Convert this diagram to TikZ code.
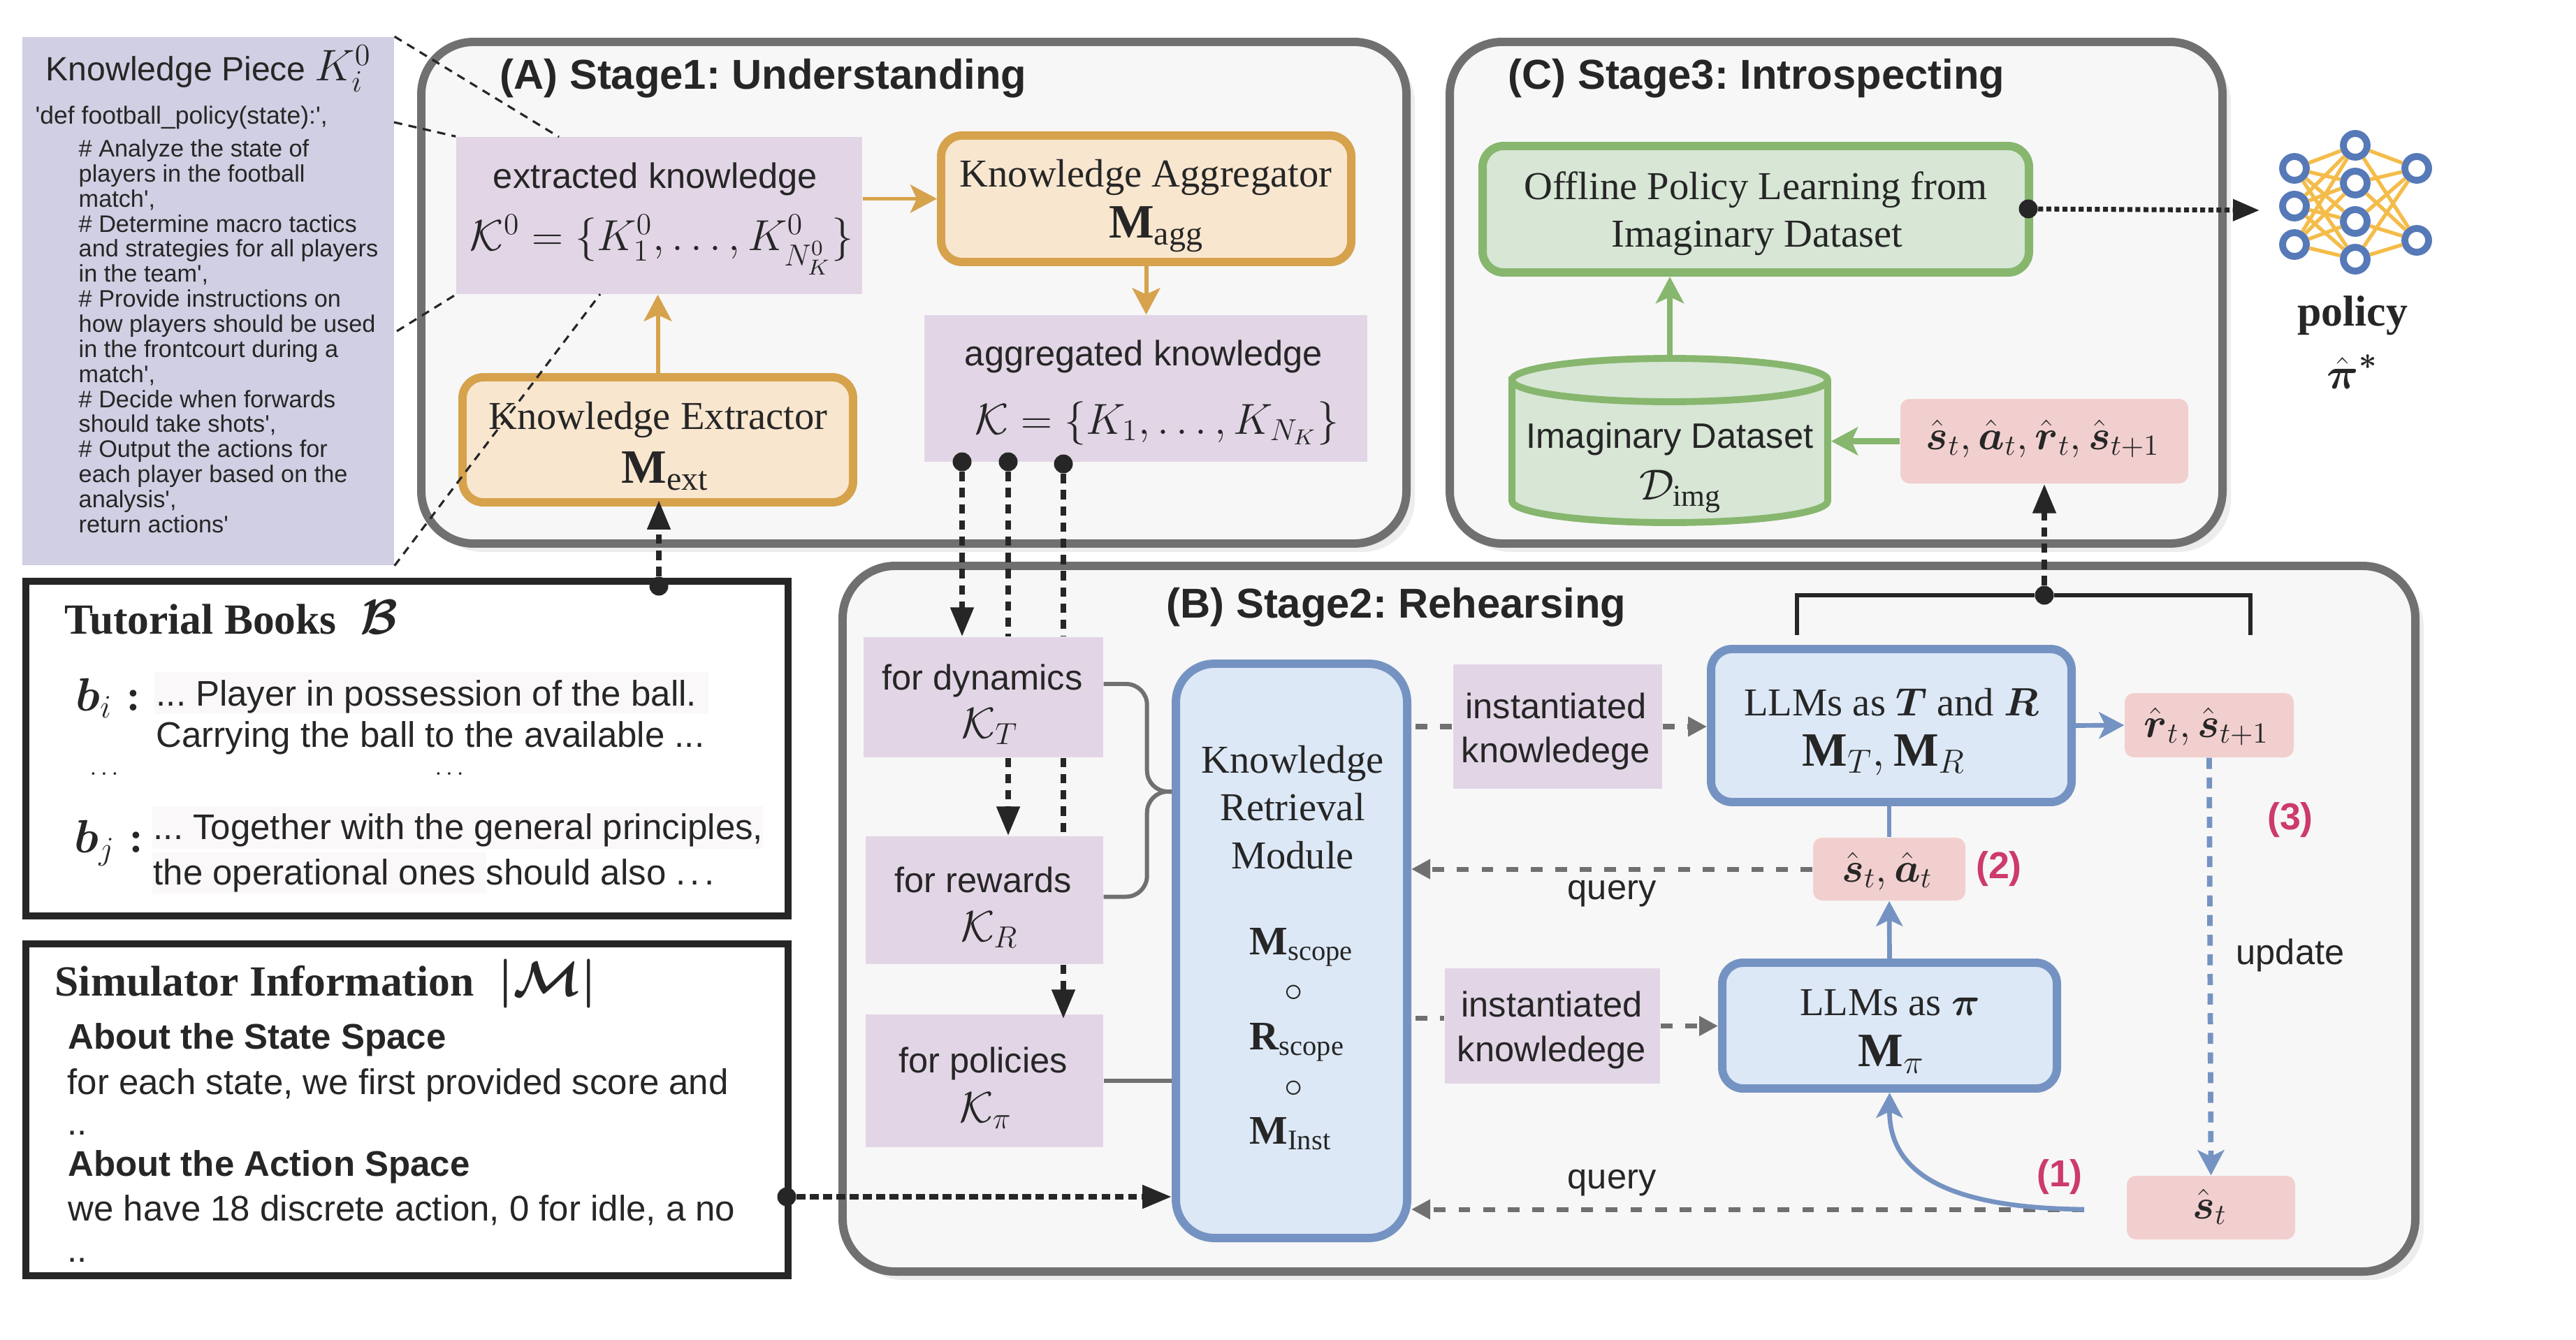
\documentclass[tikz,border=0pt]{standalone}
\usepackage{fix-cm}
\usepackage{amsmath}
\usepackage{fontspec}
\setmainfont{Liberation Serif}
\setsansfont{Liberation Sans}
\newfontfamily\codefont{Liberation Sans}
\usetikzlibrary{arrows.meta,shadows}

\definecolor{ink}{HTML}{262626}
\definecolor{panelgray}{HTML}{707070}
\definecolor{panelfill}{HTML}{F7F7F7}
\definecolor{piecefill}{HTML}{D0CFE3}
\definecolor{purplefill}{HTML}{E2D6E6}
\definecolor{orangeline}{HTML}{D6A24C}
\definecolor{orangefill}{HTML}{F9E6CF}
\definecolor{greenline}{HTML}{87B66E}
\definecolor{greenfill}{HTML}{D7E6D5}
\definecolor{blueline}{HTML}{7593C2}
\definecolor{bluefill}{HTML}{DCE8F6}
\definecolor{pinkfill}{HTML}{F2CFCF}
\definecolor{bandfill}{HTML}{FBF8FA}
\definecolor{stepred}{HTML}{CC3A6E}
\definecolor{netblue}{HTML}{5679B8}
\definecolor{netyellow}{HTML}{F4BC4A}

\newcommand{\sansfont}[1]{\sffamily\frenchspacing\fontsize{#1}{#1}\selectfont}
\newcommand{\seriffont}[1]{\rmfamily\frenchspacing\fontsize{#1}{#1}\selectfont}
\newcommand{\bigmath}[1]{{\fontsize{20}{20}\selectfont$\boldsymbol{#1}$}}

\tikzset{
    every node/.style={text=ink, inner sep=0pt},
    panel/.style={draw=panelgray, fill=panelfill, line width=3.4pt, rounded corners=.75cm,
        general shadow={fill=black, opacity=.07, shadow xshift=.05cm, shadow yshift=-.05cm},
        general shadow={fill=black, opacity=.07, shadow xshift=.12cm, shadow yshift=-.12cm}},
    stagetitle/.style={anchor=base west, font=\sffamily\bfseries\frenchspacing\fontsize{17}{20}\selectfont},
    sanstext/.style={anchor=base, font=\sansfont{14.4}},
    seriftext/.style={anchor=base, font=\seriffont{16.1}},
    mathtext/.style={anchor=base, font=\fontsize{17.7}{18}\selectfont},
    boldmodel/.style={anchor=base, font=\fontsize{19.5}{20}\selectfont},
    softbox/.style={fill=purplefill},
    orangebox/.style={draw=orangeline, fill=orangefill, line width=3.4pt, rounded corners=.3cm},
    greenbox/.style={draw=greenline, fill=greenfill, line width=3.4pt, rounded corners=.3cm},
    bluebox/.style={draw=blueline, fill=bluefill, line width=3.4pt, rounded corners=.3cm},
    pinkbox/.style={fill=pinkfill, rounded corners=.13cm},
    pinkmath/.style={anchor=base, font=\fontsize{17}{18}\selectfont},
    scopetext/.style={anchor=base west, font=\fontsize{16.5}{18}\selectfont},
    bookbox/.style={draw=ink, fill=white, line width=2.9pt},
    booktitle/.style={anchor=base west, font=\rmfamily\bfseries\frenchspacing\fontsize{17.5}{20}\selectfont},
    bookline/.style={anchor=base west, font=\sansfont{14.5}},
    bookhead/.style={anchor=base west, font=\sffamily\bfseries\frenchspacing\fontsize{14.5}{16}\selectfont},
    band/.style={fill=bandfill},
    stepmark/.style={text=stepred, font=\sffamily\bfseries\fontsize{15.3}{18}\selectfont},
    dotnode/.style={circle, fill=ink, minimum size=.27cm},
    netnode/.style={circle, draw=netblue, fill=white, line width=2.8pt, minimum size=.34cm},
    orangearrow/.style={draw=orangeline, line width=1.7pt, -{Stealth[length=.38cm,width=.4cm,inset=.09cm]}},
    greenarrow/.style={draw=greenline, line width=2.4pt, -{Stealth[length=.38cm,width=.4cm,inset=.09cm]}},
    bluearrow/.style={draw=blueline, line width=1.9pt, -{Stealth[length=.36cm,width=.38cm,inset=.09cm]}},
    bluedash/.style={bluearrow, line width=2.2pt, dash pattern=on 4.5pt off 3.5pt},
    graylink/.style={draw=panelgray, line width=1.7pt},
    graydash/.style={graylink, line width=2pt, dash pattern=on 4.8pt off 5.2pt},
    grayarrow/.style={graydash, -{Triangle[length=.27cm,width=.27cm]}},
    heavydash/.style={draw=ink, line width=2.3pt, dash pattern=on 3.8pt off 2.8pt},
    heavyarrow/.style={heavydash, -{Triangle[length=.42cm,width=.32cm]}},
    fineline/.style={draw=ink, line width=.9pt, dash pattern=on 3.4pt off 2.6pt},
}

\begin{document}
\begin{tikzpicture}[x=1cm,y=-1cm]
\useasboundingbox (0,0) rectangle (36.87,19.17);

% the three stages
\node[panel, minimum width=14.10cm, minimum height=7.18cm] (stageA) at (13.08,4.19) {};
\node[panel, minimum width=11.06cm, minimum height=7.18cm] (stageC) at (26.28,4.19) {};
\node[panel, minimum width=22.51cm, minimum height=10.10cm] (stageB) at (23.315,13.15) {};
\node[stagetitle] (titleA) at (7.15,1.27) {(A) Stage1: Understanding};
\node[stagetitle] (titleC) at (21.58,1.27) {(C) Stage3: Introspecting};
\node[stagetitle] (titleB) at (16.69,8.84) {(B) Stage2: Rehearsing};

% knowledge piece
\node[fill=piecefill, minimum width=5.32cm, minimum height=7.56cm] (piece) at (2.98,4.31) {};
\node[anchor=base west, font=\sansfont{13.7}] (pieceTitle) at (.65,1.16) {Knowledge Piece};
\node[anchor=base west, font=\fontsize{18}{18}\selectfont] (pieceMath) at (4.50,1.16) {$K_i^0$};
\node[anchor=base west, font=\codefont\fontsize{10.1}{10.2}\selectfont] (pieceHead) at (.50,1.78) {'def football\_policy(state):',};
\node[anchor=north west, align=left, font=\codefont\frenchspacing\fontsize{9.75}{10.2}\selectfont] (pieceBody) at (1.12,1.99) {%
\# Analyze the state of\\ players in the football\\ match',\\
\# Determine macro tactics\\ and strategies for all players\\ in the team',\\
\# Provide instructions on\\ how players should be used\\ in the frontcourt during a\\ match',\\
\# Decide when forwards\\ should take shots',\\
\# Output the actions for\\ each player based on the\\ analysis',\\
return actions'};

% tutorial books
\node[bookbox, minimum width=10.91cm, minimum height=4.79cm] (books) at (5.825,10.715) {};
\node[band, minimum width=7.93cm, minimum height=.60cm] (bandOne) at (6.175,9.92) {};
\node[band, minimum width=8.74cm, minimum height=.61cm] (bandTwo) at (6.55,11.845) {};
\node[band, minimum width=4.78cm, minimum height=.59cm] (bandThree) at (4.57,12.495) {};
\node[booktitle] (booksTitle) at (.92,9.07) {Tutorial Books\hspace{.55em}\bigmath{\mathcal{B}}};
\node[anchor=base west, font=\fontsize{19}{20}\selectfont] (bi) at (1.08,10.17) {$\boldsymbol{b}_i$\hspace{.3em}$\boldsymbol{:}$};
\node[anchor=base west, font=\fontsize{19}{20}\selectfont] (bj) at (1.06,12.20) {$\boldsymbol{b}_j$\hspace{.3em}$\boldsymbol{:}$};
\node[bookline] (lineOne) at (2.23,10.10) {... Player in possession of the ball.};
\node[bookline] (lineTwo) at (2.23,10.69) {Carrying the ball to the available ...};
\node[font=\sansfont{10}] (dotsLeft) at (1.52,11.08) {$\dots$};
\node[font=\sansfont{10}] (dotsRight) at (6.46,11.08) {$\dots$};
\node[bookline] (lineThree) at (2.19,12.01) {... Together with the general principles,};
\node[bookline] (lineFour) at (2.19,12.66) {the operational ones should also .\hspace{.12em}.\hspace{.12em}.};

% simulator information
\node[bookbox, minimum width=10.91cm, minimum height=4.75cm] (simulator) at (5.825,15.885) {};
\node[booktitle] (simTitle) at (.78,14.25) {Simulator Information\hspace{.55em}\bigmath{|\mathcal{M}|}};
\node[bookhead] (stateHead) at (.97,15.01) {About the State Space};
\node[bookline] (stateBody) at (.96,15.66) {for each state, we first provided score and};
\node[bookline] (stateDots) at (.96,16.24) {..};
\node[bookhead] (actionHead) at (.97,16.83) {About the Action Space};
\node[bookline] (actionBody) at (.97,17.47) {we have 18 discrete action, 0 for idle, a no};
\node[bookline] (actionDots) at (.96,18.06) {..};

% stage 1
\node[softbox, minimum width=5.81cm, minimum height=2.25cm] (extracted) at (9.435,3.085) {};
\node[sanstext] (extractedText) at (9.38,2.69) {extracted knowledge};
\node[mathtext] (extractedMath) at (9.47,3.58) {$\mathcal{K}^0=\{K_1^0,\dots,K_{N_K^0}^0\}$};
\node[softbox, minimum width=6.34cm, minimum height=2.10cm] (aggregated) at (16.40,5.56) {};
\node[sanstext] (aggregatedText) at (16.37,5.23) {aggregated knowledge};
\node[mathtext] (aggregatedMath) at (16.56,6.21) {$\mathcal{K}=\{K_1,\dots,K_{N_K}\}$};
\node[orangebox, minimum width=5.59cm, minimum height=1.79cm] (extractor) at (9.415,6.295) {};
\node[seriftext] (extractorText) at (9.42,6.14) {Knowledge Extractor};
\node[boldmodel] (extractorMath) at (9.52,6.91) {$\mathbf{M}_{\mathrm{ext}}$};
\node[orangebox, minimum width=5.87cm, minimum height=1.81cm] (aggregator) at (16.405,2.845) {};
\node[seriftext] (aggregatorText) at (16.40,2.68) {Knowledge Aggregator};
\node[boldmodel] (aggregatorMath) at (16.55,3.40) {$\mathbf{M}_{\mathrm{agg}}$};
\draw[orangearrow] (extractor.north) -- (extracted.south -| extractor.north);
\draw[orangearrow] (extracted.east |- aggregator.west) -- (aggregator.west);
\draw[orangearrow] (aggregator.south) -- (aggregated.north -| aggregator.south);

% stage 3
\node[greenbox, minimum width=7.82cm, minimum height=1.81cm] (offline) at (25.13,2.995) {};
\node[seriftext] (offlineOne) at (25.13,2.85) {Offline Policy Learning from};
\node[seriftext] (offlineTwo) at (25.15,3.53) {Imaginary Dataset};
\node[minimum width=4.52cm, minimum height=2.35cm, outer sep=.05cm] (dataset) at (23.90,6.305) {};
\draw[draw=greenline, fill=greenfill, line width=2.8pt]
    (21.64,5.44) -- (21.64,7.17) arc[start angle=180, end angle=0, x radius=2.26, y radius=.31]
    -- (26.16,5.44) arc[start angle=0, end angle=-180, x radius=2.26, y radius=.31] -- cycle;
\draw[draw=greenline, line width=2.8pt]
    (21.64,5.44) arc[start angle=180, end angle=0, x radius=2.26, y radius=.31];
\node[sanstext] (datasetText) at (23.90,6.41) {Imaginary Dataset};
\node[mathtext] (datasetMath) at (24.05,7.15) {$\mathcal{D}_{\mathrm{img}}$};
\node[pinkbox, minimum width=4.12cm, minimum height=1.21cm] (imagined) at (29.26,6.315) {};
\node[pinkmath] (imaginedMath) at (29.24,6.43) {$\hat{\boldsymbol{s}}_t,\hat{\boldsymbol{a}}_t,\hat{\boldsymbol{r}}_t,\hat{\boldsymbol{s}}_{t+1}$};
\draw[greenarrow] (dataset.north) -- (offline.south -| dataset.north);
\draw[greenarrow] (imagined.west) -- (dataset.east |- imagined.west);

% stage 2 knowledge
\node[softbox, minimum width=3.43cm, minimum height=1.72cm] (dynamics) at (14.075,9.98) {};
\node[sanstext] (dynamicsText) at (14.06,9.87) {for dynamics};
\node[mathtext] (dynamicsMath) at (14.17,10.56) {$\mathcal{K}_T$};
\node[softbox, minimum width=3.40cm, minimum height=1.83cm] (rewards) at (14.09,12.885) {};
\node[sanstext] (rewardsText) at (14.07,12.77) {for rewards};
\node[mathtext] (rewardsMath) at (14.16,13.47) {$\mathcal{K}_R$};
\node[softbox, minimum width=3.40cm, minimum height=1.90cm] (policies) at (14.09,15.47) {};
\node[sanstext] (policiesText) at (14.07,15.35) {for policies};
\node[mathtext] (policiesMath) at (14.11,16.06) {$\mathcal{K}_\pi$};
\node[bluebox, minimum width=3.31cm, minimum height=8.22cm, rounded corners=.55cm] (retrieval) at (18.485,13.61) {};
\node[seriftext] (retrievalOne) at (18.50,11.06) {Knowledge};
\node[seriftext] (retrievalTwo) at (18.50,11.74) {Retrieval};
\node[seriftext] (retrievalThree) at (18.50,12.43) {Module};
\node[scopetext] (mScope) at (17.88,13.66) {$\mathbf{M}_{\mathrm{scope}}$};
\node[font=\fontsize{15}{18}\selectfont] (circOne) at (18.52,14.22) {$\circ$};
\node[scopetext] (rScope) at (17.88,15.02) {$\mathbf{R}_{\mathrm{scope}}$};
\node[font=\fontsize{15}{18}\selectfont] (circTwo) at (18.52,15.59) {$\circ$};
\node[scopetext] (mInst) at (17.88,16.37) {$\mathbf{M}_{\mathrm{Inst}}$};
\coordinate (junction) at (16.77,11.33);
\draw[graylink, rounded corners=.3cm] ([yshift=.19cm]dynamics.east) -- ++(.62,0) |- (junction);
\draw[graylink, rounded corners=.3cm] ([yshift=.05cm]rewards.east) -- ++(.62,0) |- (junction);
\draw[graylink] (policies.east) -- (retrieval.west |- policies.east);

% stage 2 models
\node[softbox, minimum width=2.99cm, minimum height=1.78cm] (instOne) at (22.295,10.40) {};
\node[sanstext] (instOneTop) at (22.27,10.28) {instantiated};
\node[sanstext] (instOneLow) at (22.27,10.91) {knowledege};
\node[softbox, minimum width=3.08cm, minimum height=1.65cm] (instTwo) at (22.22,14.685) {};
\node[sanstext] (instTwoTop) at (22.21,14.55) {instantiated};
\node[sanstext] (instTwoLow) at (22.21,15.19) {knowledege};
\node[bluebox, minimum width=5.16cm, minimum height=2.19cm] (llmTR) at (27.07,10.385) {};
\node[seriftext] (llmTRText) at (27.07,10.24) {LLMs as $\boldsymbol{T}$ and $\boldsymbol{R}$};
\node[boldmodel] (llmTRMath) at (26.96,10.96) {$\mathbf{M}_T,\mathbf{M}_R$};
\node[bluebox, minimum width=4.79cm, minimum height=1.80cm] (llmPi) at (27.045,14.68) {};
\node[seriftext] (llmPiText) at (27.05,14.53) {LLMs as $\boldsymbol{\pi}$};
\node[boldmodel] (llmPiMath) at (27.07,15.26) {$\mathbf{M}_\pi$};
\node[pinkbox, minimum width=2.18cm, minimum height=.90cm] (stateAction) at (27.04,12.44) {};
\node[pinkmath] (stateActionMath) at (27.01,12.62) {$\hat{\boldsymbol{s}}_t,\hat{\boldsymbol{a}}_t$};
\node[pinkbox, minimum width=2.42cm, minimum height=.92cm] (nextState) at (31.62,10.38) {};
\node[pinkmath] (nextStateMath) at (31.58,10.55) {$\hat{\boldsymbol{r}}_t,\hat{\boldsymbol{s}}_{t+1}$};
\node[pinkbox, minimum width=2.41cm, minimum height=.91cm] (curState) at (31.645,17.285) {};
\node[pinkmath] (curStateMath) at (31.63,17.44) {$\hat{\boldsymbol{s}}_t$};
\node[stepmark] (stepOne) at (29.48,16.85) {(1)};
\node[stepmark] (stepTwo) at (28.61,12.44) {(2)};
\node[stepmark] (stepThree) at (32.78,11.74) {(3)};
\node[sanstext] (updateLabel) at (32.78,13.80) {update};
\node[sanstext] (queryOne) at (23.07,12.87) {query};
\node[sanstext] (queryTwo) at (23.07,17.01) {query};
\coordinate (loopEnd) at (29.83,17.31);

\draw[graydash] ([xshift=.06cm]retrieval.east |- instOne.west) -- (instOne.west);
\draw[grayarrow] (instOne.east) -- (llmTR.west |- instOne.east);
\draw[graydash] ([xshift=.06cm,yshift=.115cm]retrieval.east |- instTwo.west) -- ([yshift=.115cm]instTwo.west);
\draw[grayarrow] (instTwo.east) -- (llmPi.west |- instTwo.east);
\draw[grayarrow] (stateAction.west) -- (retrieval.east |- stateAction.west);
\draw[grayarrow] (loopEnd) -- (retrieval.east |- loopEnd);
\draw[bluearrow] (loopEnd) .. controls (27.7,17.29) and (27.04,16.7) .. (llmPi.south);
\draw[bluearrow] (llmPi.north) -- (stateAction.south);
\draw[draw=blueline, line width=1.9pt] (stateAction.north) -- (llmTR.south -| stateAction.north);
\draw[bluearrow] (llmTR.east) -- (nextState.west);
\draw[bluedash] (nextState.south) -- (curState.north);

% result bracket
\coordinate (bracketLeft) at (25.72,9.09);
\coordinate (bracketRight) at (32.21,9.09);
\node[dotnode] (bracketDot) at (29.26,8.52) {};
\draw[draw=ink, line width=1.8pt] (bracketLeft) |- (bracketDot) -| (bracketRight);
\draw[heavyarrow] (bracketDot) -- (imagined.south);

% knowledge flow
\node[dotnode] (dotDynamics) at (13.77,6.61) {};
\node[dotnode] (dotRewards) at (14.43,6.61) {};
\node[dotnode] (dotPolicies) at (15.22,6.64) {};
\draw[heavyarrow] (dotDynamics) -- (dotDynamics |- dynamics.north);
\draw[heavydash] (dotRewards) -- (dotRewards |- dynamics.north);
\draw[heavyarrow] (dotRewards |- dynamics.south) -- (dotRewards |- rewards.north);
\draw[heavydash] (dotPolicies) -- (dotPolicies |- dynamics.north);
\draw[heavydash] (dotPolicies |- dynamics.south) -- (dotPolicies |- rewards.north);
\draw[heavyarrow] (dotPolicies |- rewards.south) -- ([yshift=-.07cm]dotPolicies |- policies.north);

% inputs
\node[dotnode] (dotBooks) at (9.43,8.39) {};
\node[dotnode] (dotSimulator) at (11.26,17.13) {};
\draw[heavyarrow] (dotBooks) -- ([yshift=.09cm]extractor.south -| dotBooks);
\draw[draw=ink, line width=2.4pt, dash pattern=on 3.6pt off 1.8pt, -{Triangle[length=.42cm,width=.32cm]}] (dotSimulator) -- (retrieval.west |- dotSimulator);

% policy network
\foreach \nname/\nx/\ny in {a1/32.84/2.41, a2/32.84/2.95, a3/32.84/3.50,
        b1/33.71/2.08, b2/33.71/2.62, b3/33.71/3.17, b4/33.71/3.71,
        c1/34.59/2.41, c2/34.59/3.44}
    \node[netnode] (\nname) at (\nx,\ny) {};
\foreach \i in {a1,a2,a3}
    \foreach \j in {b1,b2,b3,b4}
        \draw[netyellow, line width=1.5pt] (\i) -- (\j);
\foreach \i in {b1,b2,b3,b4}
    \foreach \j in {c1,c2}
        \draw[netyellow, line width=1.5pt] (\i) -- (\j);
\node[anchor=base, font=\rmfamily\bfseries\fontsize{17.6}{20}\selectfont] (policyLabel) at (33.67,4.66) {policy};
\node[anchor=base, font=\fontsize{18}{20}\selectfont] (policyMath) at (33.67,5.56) {$\hat{\boldsymbol{\pi}}^{\boldsymbol{*}}$};

\node[dotnode] (dotOffline) at (29.03,2.99) {};
\coordinate (netEntry) at (32.34,3.01);
\draw[draw=ink, line width=2pt, dash pattern=on 2pt off 1.3pt, -{Triangle[length=.38cm,width=.3cm]}] (dotOffline) -- (netEntry);

% zoom lines
\coordinate (pinTop) at (8.00,1.96);
\coordinate (pinBottom) at (8.59,4.21);
\coordinate (pieceUpper) at (5.64,1.75);
\coordinate (pieceLower) at (5.68,4.74);
\draw[fineline] (piece.north east) -- (pinTop);
\draw[fineline] (pieceUpper) -- (extracted.north west);
\draw[fineline] (pieceLower) -- (extracted.south west);
\draw[fineline] (piece.south east) -- (pinBottom);
\end{tikzpicture}
\end{document}
